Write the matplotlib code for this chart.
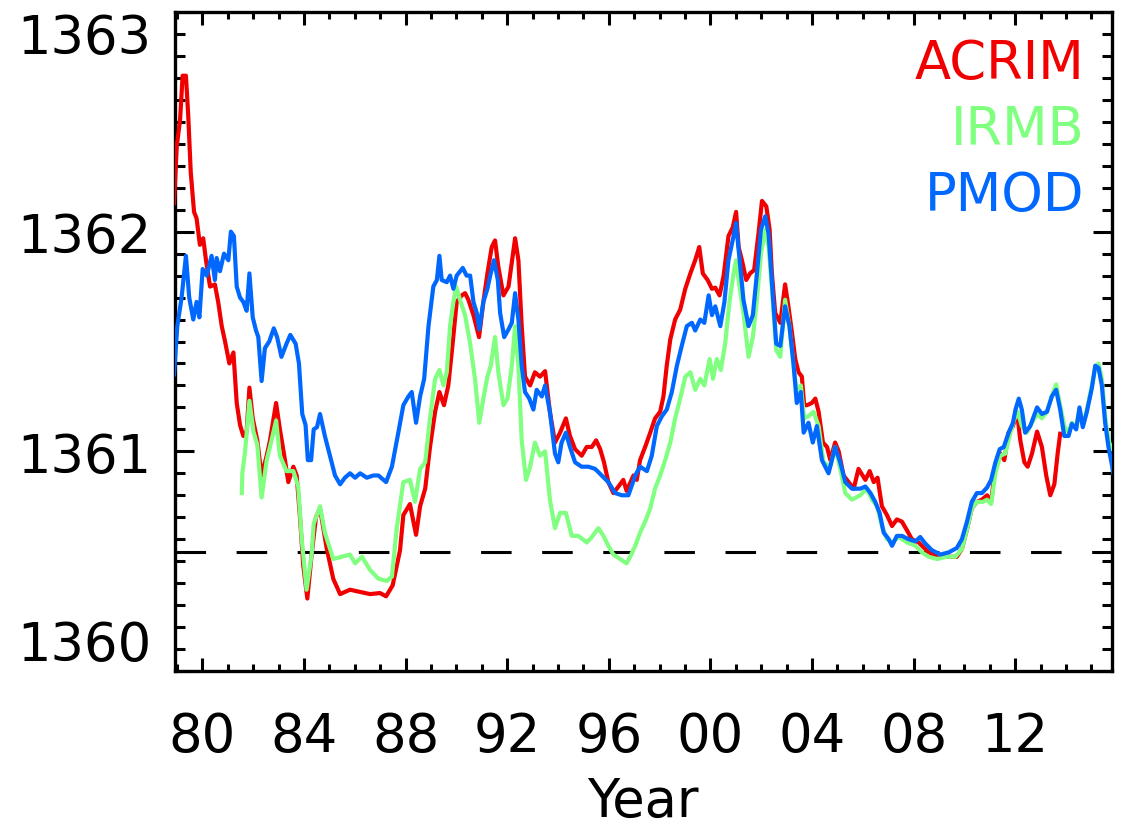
import numpy as np
import matplotlib
matplotlib.use("Agg")
import matplotlib.pyplot as plt
from matplotlib.ticker import MultipleLocator, FixedLocator

# ---------------------------------------------------------------- data
# TSI composites (W/m^2), decimal year
acrim_year = [
    1978.88, 1978.99, 1979.12, 1979.22, 1979.35, 1979.44, 1979.54, 1979.67, 1979.77, 1979.90,
    1980.03, 1980.14, 1980.30, 1980.49, 1980.62, 1980.76, 1980.89, 1981.06, 1981.22, 1981.35,
    1981.48, 1981.61, 1981.74, 1981.85, 1981.98, 1982.16, 1982.33, 1982.53, 1982.66, 1982.90,
    1983.05, 1983.25, 1983.38, 1983.58, 1983.71, 1983.84, 1983.97, 1984.13, 1984.30, 1984.47,
    1984.63, 1984.89, 1985.15, 1985.42, 1985.81, 1986.21, 1986.60, 1986.99, 1987.23, 1987.49,
    1987.78, 1987.91, 1988.17, 1988.41, 1988.57, 1988.77, 1988.96, 1989.16, 1989.33, 1989.51,
    1989.68, 1989.85, 1990.01, 1990.21, 1990.34, 1990.47, 1990.67, 1990.89, 1991.06, 1991.22,
    1991.39, 1991.52, 1991.65, 1991.85, 1992.05, 1992.18, 1992.31, 1992.44, 1992.57, 1992.70,
    1992.90, 1993.09, 1993.29, 1993.49, 1993.68, 1993.88, 1994.08, 1994.31, 1994.47, 1994.67,
    1994.93, 1995.13, 1995.33, 1995.50, 1995.66, 1995.81, 1995.98, 1996.18, 1996.38, 1996.57,
    1996.70, 1996.97, 1997.10, 1997.23, 1997.43, 1997.63, 1997.82, 1998.02, 1998.15, 1998.28,
    1998.42, 1998.61, 1998.81, 1999.01, 1999.21, 1999.40, 1999.56, 1999.70, 1999.89, 2000.06,
    2000.19, 2000.36, 2000.52, 2000.71, 2000.88, 2001.01, 2001.11, 2001.24, 2001.41, 2001.56,
    2001.72, 2001.89, 2002.03, 2002.20, 2002.33, 2002.42, 2002.55, 2002.75, 2002.94, 2003.07,
    2003.21, 2003.34, 2003.47, 2003.60, 2003.69, 2003.80, 2003.99, 2004.13, 2004.26, 2004.43,
    2004.59, 2004.72, 2004.91, 2005.05, 2005.24, 2005.44, 2005.64, 2005.83, 2006.10, 2006.27,
    2006.43, 2006.58, 2006.75, 2006.95, 2007.15, 2007.34, 2007.54, 2007.74, 2007.93, 2008.20,
    2008.46, 2008.72, 2009.05, 2009.38, 2009.70, 2009.90, 2010.10, 2010.29, 2010.49, 2010.69,
    2010.89, 2011.05, 2011.22, 2011.41, 2011.57, 2011.74, 2011.91, 2012.07, 2012.20, 2012.36,
    2012.49, 2012.66, 2012.86, 2013.05, 2013.22, 2013.38, 2013.54, 2013.67, 2013.77,
]
acrim_tsi = [
    1362.13, 1362.39, 1362.51, 1362.71, 1362.71, 1362.53, 1362.27, 1362.09, 1362.06, 1361.94,
    1361.97, 1361.87, 1361.75, 1361.76, 1361.68, 1361.57, 1361.50, 1361.40, 1361.45, 1361.22,
    1361.12, 1361.07, 1361.09, 1361.29, 1361.15, 1361.05, 1360.89, 1360.98, 1361.05, 1361.22,
    1361.10, 1360.96, 1360.86, 1360.93, 1360.89, 1360.70, 1360.48, 1360.33, 1360.53, 1360.70,
    1360.74, 1360.56, 1360.42, 1360.35, 1360.37, 1360.36, 1360.35, 1360.355, 1360.34, 1360.39,
    1360.55, 1360.71, 1360.76, 1360.62, 1360.75, 1360.83, 1361.02, 1361.18, 1361.27, 1361.21,
    1361.30, 1361.49, 1361.68, 1361.71, 1361.72, 1361.69, 1361.62, 1361.52, 1361.68, 1361.81,
    1361.93, 1361.96, 1361.84, 1361.71, 1361.75, 1361.86, 1361.97, 1361.87, 1361.57, 1361.34,
    1361.30, 1361.36, 1361.34, 1361.365, 1361.18, 1361.04, 1361.085, 1361.15, 1361.07, 1361.01,
    1360.98, 1361.02, 1361.02, 1361.05, 1361.01, 1360.95, 1360.86, 1360.81, 1360.84, 1360.87,
    1360.82, 1360.89, 1360.87, 1360.96, 1361.02, 1361.085, 1361.15, 1361.18, 1361.25, 1361.39,
    1361.51, 1361.60, 1361.645, 1361.74, 1361.81, 1361.87, 1361.93, 1361.81, 1361.78, 1361.74,
    1361.745, 1361.71, 1361.80, 1361.98, 1362.02, 1362.09, 1361.93, 1361.87, 1361.78, 1361.81,
    1361.825, 1361.99, 1362.14, 1362.115, 1362.01, 1361.81, 1361.63, 1361.585, 1361.76, 1361.66,
    1361.54, 1361.42, 1361.36, 1361.34, 1361.21, 1361.21, 1361.22, 1361.24, 1361.18, 1361.04,
    1361.02, 1360.96, 1361.04, 1361.00, 1360.89, 1360.86, 1360.83, 1360.92, 1360.87, 1360.91,
    1360.86, 1360.88, 1360.75, 1360.71, 1360.66, 1360.69, 1360.68, 1360.64, 1360.60, 1360.585,
    1360.555, 1360.53, 1360.52, 1360.52, 1360.52, 1360.555, 1360.645, 1360.74, 1360.77, 1360.78,
    1360.80, 1360.77, 1360.93, 1360.99, 1360.96, 1361.085, 1361.115, 1361.18, 1361.05, 1360.95,
    1360.93, 1360.99, 1361.09, 1361.02, 1360.89, 1360.80, 1360.85, 1360.99, 1361.08,
]

irmb_year = [
    1981.55, 1981.57, 1981.68, 1981.85, 1982.01, 1982.16, 1982.33, 1982.53, 1982.72, 1982.90,
    1983.05, 1983.31, 1983.58, 1983.77, 1983.91, 1984.10, 1984.30, 1984.38, 1984.63, 1984.82,
    1985.15, 1985.48, 1985.81, 1986.01, 1986.28, 1986.60, 1986.93, 1987.26, 1987.46, 1987.65,
    1987.91, 1988.17, 1988.37, 1988.57, 1988.77, 1988.96, 1989.16, 1989.33, 1989.49, 1989.62,
    1989.75, 1989.88, 1989.99, 1990.14, 1990.34, 1990.54, 1990.73, 1990.90, 1991.06, 1991.22,
    1991.35, 1991.52, 1991.65, 1991.85, 1992.01, 1992.18, 1992.31, 1992.44, 1992.57, 1992.74,
    1992.90, 1993.09, 1993.29, 1993.49, 1993.68, 1993.88, 1994.08, 1994.31, 1994.54, 1994.80,
    1995.13, 1995.33, 1995.59, 1995.79, 1995.98, 1996.18, 1996.44, 1996.70, 1996.84, 1997.04,
    1997.23, 1997.43, 1997.63, 1997.82, 1998.02, 1998.22, 1998.42, 1998.61, 1998.81, 1999.01,
    1999.21, 1999.40, 1999.60, 1999.76, 1999.97, 2000.10, 2000.25, 2000.41, 2000.58, 2000.75,
    2000.91, 2001.01, 2001.11, 2001.30, 2001.50, 2001.67, 2001.83, 2001.99, 2002.16, 2002.29,
    2002.42, 2002.59, 2002.75, 2002.94, 2003.11, 2003.27, 2003.40, 2003.56, 2003.69, 2003.86,
    2004.06, 2004.26, 2004.45, 2004.72, 2004.91, 2005.11, 2005.31, 2005.57, 2005.90, 2006.16,
    2006.36, 2006.56, 2006.75, 2006.95, 2007.15, 2007.41, 2007.74, 2008.07, 2008.33, 2008.59,
    2008.92, 2009.31, 2009.64, 2009.90, 2010.10, 2010.29, 2010.49, 2010.73, 2010.89, 2011.05,
    2011.22, 2011.41, 2011.61, 2011.81, 2011.96, 2012.10, 2012.26, 2012.46, 2012.66, 2012.86,
    2013.05, 2013.25, 2013.44, 2013.61, 2013.77, 2013.93, 2014.10, 2014.23, 2014.40, 2014.53,
    2014.66, 2014.82, 2015.02, 2015.15, 2015.28, 2015.41, 2015.54, 2015.67, 2015.80,
]
irmb_tsi = [
    1360.81, 1360.90, 1361.00, 1361.23, 1361.09, 1361.03, 1360.79, 1360.96, 1361.05, 1361.14,
    1360.98, 1360.91, 1360.91, 1360.84, 1360.60, 1360.37, 1360.53, 1360.67, 1360.75, 1360.63,
    1360.51, 1360.52, 1360.53, 1360.49, 1360.52, 1360.46, 1360.42, 1360.41, 1360.43, 1360.65,
    1360.86, 1360.87, 1360.77, 1360.92, 1360.95, 1361.15, 1361.33, 1361.37, 1361.30, 1361.36,
    1361.57, 1361.68, 1361.75, 1361.69, 1361.62, 1361.49, 1361.33, 1361.13, 1361.24, 1361.34,
    1361.39, 1361.52, 1361.36, 1361.21, 1361.24, 1361.39, 1361.57, 1361.39, 1361.05, 1360.87,
    1360.93, 1361.04, 1360.98, 1361.00, 1360.78, 1360.65, 1360.72, 1360.72, 1360.615, 1360.615,
    1360.585, 1360.61, 1360.65, 1360.615, 1360.57, 1360.53, 1360.51, 1360.49, 1360.52, 1360.57,
    1360.63, 1360.68, 1360.74, 1360.83, 1360.89, 1360.96, 1361.04, 1361.15, 1361.24, 1361.34,
    1361.36, 1361.28, 1361.33, 1361.30, 1361.42, 1361.33, 1361.42, 1361.37, 1361.49, 1361.68,
    1361.81, 1361.87, 1361.78, 1361.63, 1361.43, 1361.52, 1361.69, 1361.90, 1362.01, 1361.93,
    1361.74, 1361.46, 1361.43, 1361.69, 1361.57, 1361.39, 1361.27, 1361.30, 1361.15, 1361.16,
    1361.18, 1361.115, 1360.95, 1360.93, 1361.02, 1360.92, 1360.81, 1360.78, 1360.80, 1360.83,
    1360.78, 1360.75, 1360.66, 1360.60, 1360.585, 1360.61, 1360.585, 1360.57, 1360.54, 1360.52,
    1360.51, 1360.52, 1360.52, 1360.555, 1360.645, 1360.74, 1360.77, 1360.77, 1360.78, 1360.76,
    1360.90, 1360.98, 1360.99, 1361.085, 1361.145, 1361.18, 1361.115, 1361.085, 1361.13, 1361.17,
    1361.15, 1361.18, 1361.25, 1361.305, 1361.21, 1361.115, 1361.085, 1361.13, 1361.11, 1361.19,
    1361.115, 1361.19, 1361.30, 1361.38, 1361.40, 1361.33, 1361.16, 1361.05, 1361.01,
]

pmod_year = [
    1978.88, 1979.01, 1979.18, 1979.35, 1979.48, 1979.64, 1979.77, 1979.88, 1980.01, 1980.17,
    1980.36, 1980.49, 1980.56, 1980.69, 1980.85, 1981.02, 1981.12, 1981.24, 1981.35, 1981.48,
    1981.61, 1981.74, 1981.85, 1981.98, 1982.11, 1982.20, 1982.33, 1982.46, 1982.63, 1982.81,
    1982.94, 1983.11, 1983.31, 1983.46, 1983.67, 1983.80, 1983.93, 1984.06, 1984.15, 1984.28,
    1984.38, 1984.51, 1984.63, 1984.82, 1985.02, 1985.22, 1985.42, 1985.61, 1985.81, 1986.01,
    1986.21, 1986.47, 1986.73, 1986.93, 1987.23, 1987.46, 1987.72, 1987.91, 1988.11, 1988.24,
    1988.41, 1988.57, 1988.73, 1988.90, 1989.09, 1989.23, 1989.33, 1989.42, 1989.62, 1989.75,
    1989.88, 1990.01, 1990.25, 1990.40, 1990.54, 1990.67, 1990.80, 1990.90, 1991.06, 1991.22,
    1991.33, 1991.48, 1991.63, 1991.72, 1991.88, 1992.05, 1992.18, 1992.31, 1992.44, 1992.57,
    1992.70, 1992.87, 1993.03, 1993.16, 1993.36, 1993.49, 1993.68, 1993.88, 1994.01, 1994.14,
    1994.31, 1994.47, 1994.67, 1994.93, 1995.20, 1995.46, 1995.72, 1995.98, 1996.25, 1996.51,
    1996.77, 1997.04, 1997.23, 1997.50, 1997.69, 1997.89, 1998.09, 1998.28, 1998.48, 1998.68,
    1998.87, 1999.07, 1999.27, 1999.40, 1999.60, 1999.76, 1999.93, 2000.06, 2000.19, 2000.39,
    2000.55, 2000.71, 2000.91, 2001.01, 2001.11, 2001.30, 2001.50, 2001.67, 2001.83, 2001.99,
    2002.16, 2002.29, 2002.42, 2002.59, 2002.75, 2002.94, 2003.11, 2003.27, 2003.40, 2003.56,
    2003.67, 2003.86, 2004.03, 2004.19, 2004.39, 2004.65, 2004.91, 2005.11, 2005.31, 2005.57,
    2005.90, 2006.10, 2006.30, 2006.49, 2006.66, 2006.82, 2007.02, 2007.15, 2007.34, 2007.54,
    2007.80, 2008.07, 2008.26, 2008.46, 2008.72, 2009.05, 2009.38, 2009.70, 2009.90, 2010.10,
    2010.29, 2010.49, 2010.69, 2010.89, 2011.05, 2011.22, 2011.39, 2011.55, 2011.74, 2011.91,
    2012.01, 2012.14, 2012.26, 2012.39, 2012.59, 2012.86, 2013.05, 2013.25, 2013.44, 2013.61,
    2013.77, 2013.93, 2014.10, 2014.23, 2014.40, 2014.53, 2014.66, 2014.82, 2015.02, 2015.15,
    2015.28, 2015.41, 2015.54, 2015.67, 2015.87,
]
pmod_tsi = [
    1361.35, 1361.57, 1361.70, 1361.89, 1361.70, 1361.60, 1361.68, 1361.61, 1361.83, 1361.80,
    1361.89, 1361.78, 1361.88, 1361.82, 1361.90, 1361.87, 1362.00, 1361.98, 1361.75, 1361.70,
    1361.68, 1361.64, 1361.81, 1361.61, 1361.55, 1361.52, 1361.32, 1361.47, 1361.50, 1361.56,
    1361.52, 1361.43, 1361.49, 1361.53, 1361.49, 1361.40, 1361.17, 1361.12, 1360.96, 1360.96,
    1361.10, 1361.11, 1361.17, 1361.07, 1360.98, 1360.89, 1360.85, 1360.88, 1360.90, 1360.88,
    1360.90, 1360.88, 1360.89, 1360.89, 1360.86, 1360.93, 1361.09, 1361.21, 1361.25, 1361.27,
    1361.13, 1361.25, 1361.33, 1361.57, 1361.75, 1361.78, 1361.89, 1361.78, 1361.77, 1361.80,
    1361.74, 1361.80, 1361.835, 1361.80, 1361.80, 1361.68, 1361.63, 1361.555, 1361.68, 1361.74,
    1361.80, 1361.87, 1361.78, 1361.63, 1361.52, 1361.555, 1361.585, 1361.72, 1361.60, 1361.39,
    1361.27, 1361.24, 1361.19, 1361.28, 1361.25, 1361.30, 1361.18, 1360.99, 1360.95, 1361.04,
    1361.085, 1361.02, 1360.95, 1360.93, 1360.93, 1360.92, 1360.89, 1360.86, 1360.81, 1360.80,
    1360.80, 1360.89, 1360.93, 1360.91, 1360.98, 1361.115, 1361.16, 1361.19, 1361.27, 1361.39,
    1361.48, 1361.57, 1361.585, 1361.55, 1361.60, 1361.585, 1361.71, 1361.62, 1361.66, 1361.57,
    1361.68, 1361.87, 1361.98, 1362.04, 1361.92, 1361.69, 1361.57, 1361.62, 1361.81, 1362.01,
    1362.07, 1361.99, 1361.77, 1361.49, 1361.48, 1361.66, 1361.57, 1361.40, 1361.22, 1361.27,
    1361.085, 1361.13, 1361.04, 1361.115, 1360.96, 1360.90, 1361.02, 1360.95, 1360.86, 1360.83,
    1360.83, 1360.84, 1360.81, 1360.77, 1360.72, 1360.63, 1360.60, 1360.57, 1360.615, 1360.615,
    1360.60, 1360.59, 1360.61, 1360.58, 1360.55, 1360.53, 1360.54, 1360.56, 1360.60, 1360.68,
    1360.77, 1360.81, 1360.81, 1360.835, 1360.87, 1360.95, 1361.01, 1361.02, 1361.085, 1361.13,
    1361.19, 1361.24, 1361.19, 1361.085, 1361.115, 1361.20, 1361.17, 1361.18, 1361.25, 1361.28,
    1361.19, 1361.07, 1361.07, 1361.125, 1361.10, 1361.20, 1361.11, 1361.18, 1361.29, 1361.39,
    1361.38, 1361.30, 1361.13, 1361.02, 1360.90,
]

solar_min_level = 1360.54
year_ticks = [1980, 1984, 1988, 1992, 1996, 2000, 2004, 2008, 2012]
year_labels = ["80", "84", "88", "92", "96", "00", "04", "08", "12"]
tsi_ticks = [1360, 1361, 1362, 1363]

series = [
    ("ACRIM", acrim_year, acrim_tsi, "#f00000"),
    ("IRMB", irmb_year, irmb_tsi, "#80ff80"),
    ("PMOD", pmod_year, pmod_tsi, "#0068ff"),
]

# ---------------------------------------------------------------- plot
plt.rcParams["font.family"] = "DejaVu Sans"
FS = 38

fig = plt.figure(figsize=(11.22, 8.29), dpi=100)
ax = fig.add_axes([175 / 1122, 1 - 672 / 829, 937 / 1122, 659 / 829])

for name, x, y, c in series:
    ax.plot(x, y, color=c, lw=3.0, solid_joinstyle="round", zorder=3)

ax.axhline(solar_min_level, color="black", lw=2.2, dashes=(10, 10), zorder=2)

ax.set_xlim(1978.92, 2015.81)
ax.set_ylim(1360, 1363)

ax.xaxis.set_major_locator(FixedLocator(year_ticks))
ax.set_xticklabels(year_labels)
ax.xaxis.set_minor_locator(MultipleLocator(1))
ax.yaxis.set_major_locator(FixedLocator(tsi_ticks))
ax.yaxis.set_minor_locator(MultipleLocator(0.1))
ax.set_yticklabels([str(t) for t in tsi_ticks])

ax.tick_params(which="both", direction="in", top=True, right=True, width=2.2,
               labelsize=FS, colors="black")
ax.tick_params(axis="x", which="major", length=9.5, pad=28)
ax.tick_params(axis="x", which="minor", length=5)
ax.tick_params(axis="y", which="major", length=13.5, pad=17)
ax.tick_params(axis="y", which="minor", length=7)

for lab in ax.get_yticklabels():
    lab.set_va("center_baseline")
ylabs = ax.get_yticklabels()
ylabs[0].set_va("bottom")
ylabs[-1].set_va("top")

for sp in ax.spines.values():
    sp.set_linewidth(2.4)

for i, (name, x, y, c) in enumerate(series):
    ax.text(0.971, 0.9 - 0.1 * i, name, color=c, fontsize=FS,
            ha="right", va="baseline", transform=ax.transAxes)

fig.text(643 / 1122, 0.014, "Year", fontsize=FS, ha="center", va="baseline")

fig.savefig("out.png", dpi=100)
